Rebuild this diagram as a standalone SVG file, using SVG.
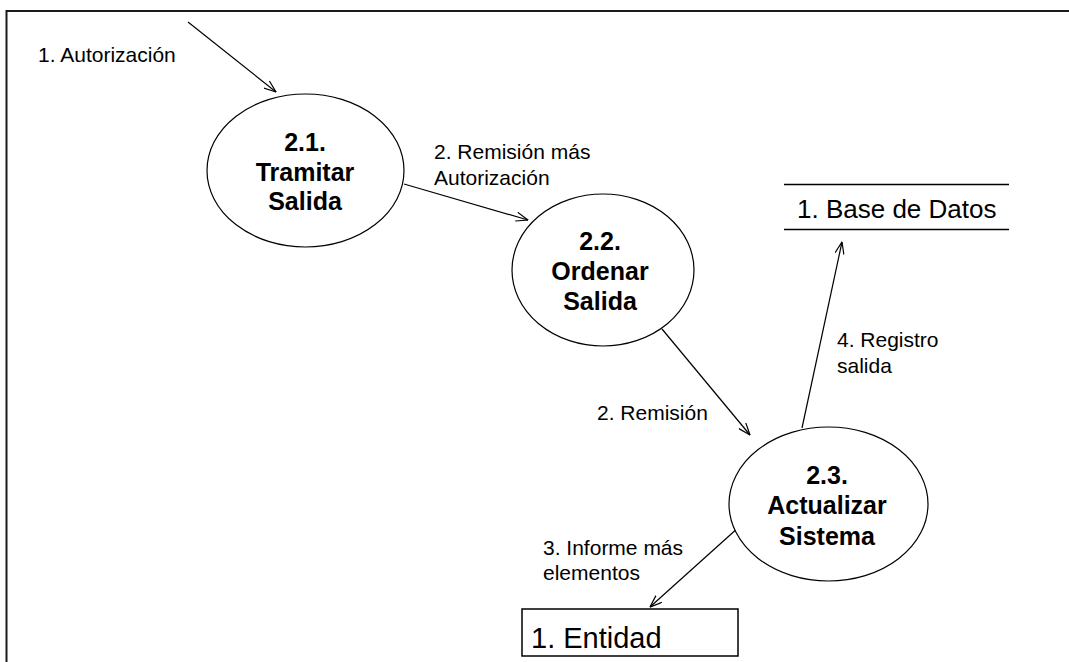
<svg xmlns="http://www.w3.org/2000/svg" width="1069" height="662" viewBox="0 0 1069 662">
  <style>
    .frame { fill: none; stroke: #1a1a1a; stroke-width: 2; }
    .proc { fill: #ffffff; stroke: #000000; stroke-width: 1.2; }
    .ptext { font-family: "Liberation Sans", Arial, sans-serif; font-size: 25px; font-weight: bold; fill: #000000; text-anchor: middle; }
    .flow { fill: none; stroke: #000000; stroke-width: 1.2; marker-end: url(#arrow); }
    .lbl { font-family: "Liberation Sans", Arial, sans-serif; font-size: 21px; fill: #000000; }
    .store { fill: none; stroke: #000000; stroke-width: 1.5; }
    .stext { font-family: "Liberation Sans", Arial, sans-serif; font-size: 26px; fill: #000000; }
    .ent { fill: #ffffff; stroke: #000000; stroke-width: 1.5; }
    .etext { font-family: "Liberation Sans", Arial, sans-serif; font-size: 29px; fill: #000000; }
  </style>
  <defs>
    <marker id="arrow" viewBox="0 0 13 10" refX="12.5" refY="5" markerWidth="13" markerHeight="10" markerUnits="userSpaceOnUse" orient="auto">
      <path d="M0.5,0.5 L12.5,5 L0.5,9.5" fill="none" stroke="#000000" stroke-width="1.2"/>
    </marker>
  </defs>

  <rect x="0" y="0" width="1069" height="662" fill="#ffffff"/>

  <!-- outer frame: top and left edges -->
  <path class="frame" d="M6.5,662 V11 H1069"/>

  <!-- data flows -->
  <g id="connectors">
    <line class="flow" x1="188" y1="22" x2="276" y2="92"/>
    <line class="flow" x1="404" y1="184" x2="528" y2="220"/>
    <line class="flow" x1="662" y1="329" x2="750" y2="435"/>
    <line class="flow" x1="802" y1="428" x2="842" y2="242"/>
    <line class="flow" x1="739" y1="527" x2="650" y2="607"/>
    <text class="lbl" x="38" y="62">1. Autorización</text>
    <text class="lbl" x="434" y="159">2. Remisión más</text>
    <text class="lbl" x="434" y="185">Autorización</text>
    <text class="lbl" x="597" y="420">2. Remisión</text>
    <text class="lbl" x="837" y="347">4. Registro</text>
    <text class="lbl" x="837" y="373">salida</text>
    <text class="lbl" x="543" y="555">3. Informe más</text>
    <text class="lbl" x="543" y="580">elementos</text>
  </g>

  <g id="p21">
    <ellipse class="proc" cx="305.5" cy="170.5" rx="98.5" ry="76.5"/>
    <text class="ptext" x="305" y="151">2.1.</text>
    <text class="ptext" x="305" y="181">Tramitar</text>
    <text class="ptext" x="305" y="210">Salida</text>
  </g>

  <g id="p22">
    <ellipse class="proc" cx="603" cy="270" rx="91" ry="76"/>
    <text class="ptext" x="600" y="250">2.2.</text>
    <text class="ptext" x="600" y="280">Ordenar</text>
    <text class="ptext" x="600" y="310">Salida</text>
  </g>

  <g id="p23">
    <ellipse class="proc" cx="828.5" cy="504" rx="99.5" ry="77"/>
    <text class="ptext" x="827" y="484">2.3.</text>
    <text class="ptext" x="827" y="514">Actualizar</text>
    <text class="ptext" x="827" y="545">Sistema</text>
  </g>

  <g id="store-base-datos">
    <line class="store" x1="784" y1="184.5" x2="1009" y2="184.5"/>
    <line class="store" x1="784" y1="229.5" x2="1009" y2="229.5"/>
    <text class="stext" x="797" y="218">1. Base de Datos</text>
  </g>

  <g id="entidad">
    <rect class="ent" x="522" y="609" width="216" height="47"/>
    <text class="etext" x="531" y="648">1. Entidad</text>
  </g>
</svg>
